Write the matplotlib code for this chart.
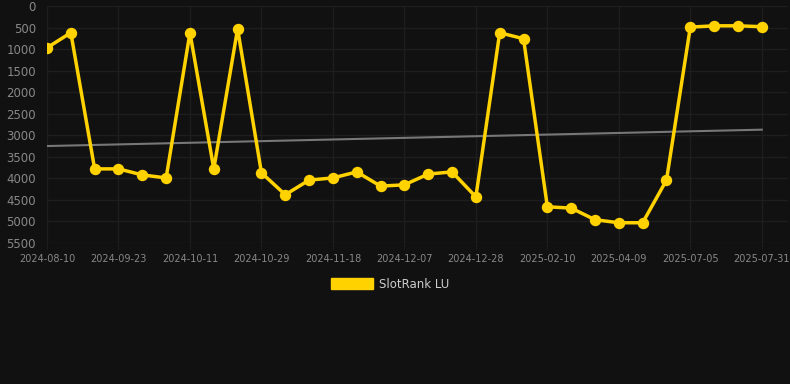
import numpy as np
import matplotlib
matplotlib.use("Agg")
import matplotlib.pyplot as plt

# rank values, one per point (evenly spaced)
ranks = [970, 620, 3780, 3780, 3920, 3990, 620, 3780, 530, 3870, 4380,
         4040, 3990, 3850, 4180, 4150, 3900, 3850, 4430, 620, 760,
         4660, 4690, 4960, 5030, 5030, 4040, 490, 460, 460, 480]
tick_labels = ['2024-08-10', '2024-09-23', '2024-10-11', '2024-10-29', '2024-11-18',
               '2024-12-07', '2024-12-28', '2025-02-10', '2025-04-09', '2025-07-05',
               '2025-07-31']
trend_ends = [3250, 2870]
yticks = [0, 500, 1000, 1500, 2000, 2500, 3000, 3500, 4000, 4500, 5000, 5500]

bg = '#111111'
gold = '#FFD200'
W, H = 790, 384

fig = plt.figure(figsize=(W / 100, H / 100), dpi=100, facecolor=bg)
ax = fig.add_axes([47 / W, 1 - 243 / H, (788 - 47) / W, (243 - 6) / H], facecolor=bg)

x = np.arange(len(ranks))
ax.plot([x[0], x[-1]], trend_ends, color='#777777', lw=1.5, zorder=2)
ax.plot(x, ranks, color=gold, lw=2.5, marker='o', ms=7.2, zorder=3,
        label='SlotRank LU')

ax.set_xlim(0, 31.1)
ax.set_ylim(5500, 0)
ax.set_yticks(yticks)
ax.set_yticklabels([str(v) for v in yticks])
ax.set_xticks(x[::3])
ax.set_xticklabels(tick_labels)

ax.grid(True, color='#1e1e1e', lw=1)
ax.set_axisbelow(True)
for s in ax.spines.values():
    s.set_visible(False)
ax.tick_params(axis='y', colors='#888888', labelsize=8.5, length=0, pad=8)
ax.tick_params(axis='x', colors='#888888', labelsize=7, length=4, pad=4, color='#1e1e1e')

leg = fig.legend(handles=[plt.Rectangle((0, 0), 1, 1, color=gold)], labels=['SlotRank LU'],
                 loc='center', bbox_to_anchor=(390 / W, 1 - 284 / H), frameon=False,
                 handlelength=3.6, handleheight=1.0, handletextpad=0.5, fontsize=8.5)
for t in leg.get_texts():
    t.set_color('#cccccc')

fig.savefig('out.png', dpi=100, facecolor=bg)
